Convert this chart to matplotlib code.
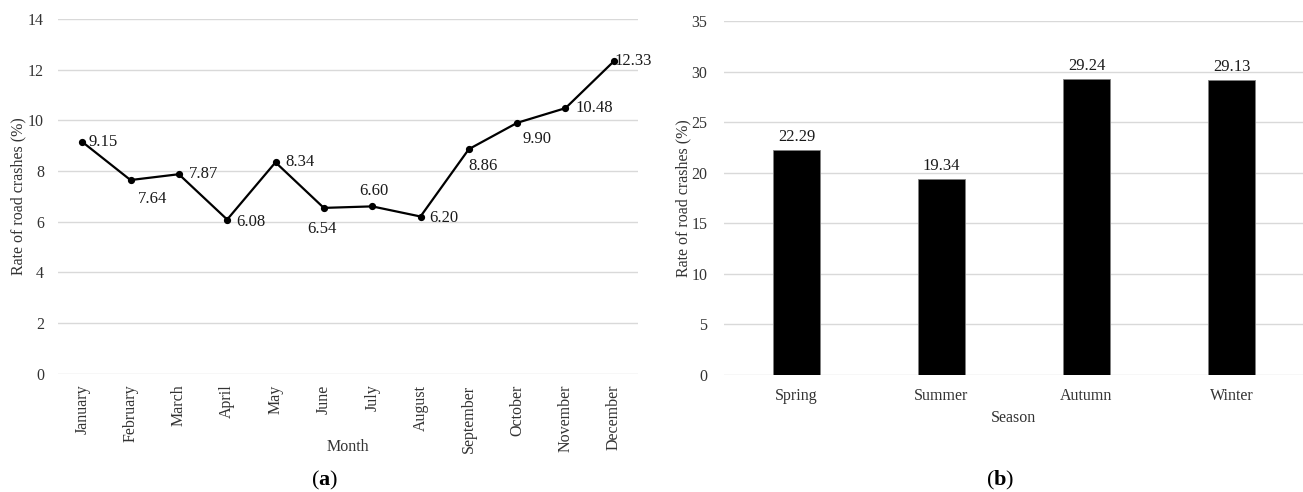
import matplotlib
matplotlib.use("Agg")
import matplotlib.pyplot as plt

plt.rcParams['font.family'] = ['Liberation Serif', 'DejaVu Serif']
plt.rcParams['mathtext.fontset'] = 'custom'
plt.rcParams['mathtext.rm'] = 'Liberation Serif'
plt.rcParams['mathtext.bf'] = 'Liberation Serif:bold'

# Monthly crash rates (%)
months = ["January", "February", "March", "April", "May", "June", "July",
          "August", "September", "October", "November", "December"]
month_rates = [9.15, 7.64, 7.87, 6.08, 8.34, 6.54, 6.60, 6.20, 8.86, 9.90, 10.48, 12.33]

# Seasonal crash rates (%)
seasons = ["Spring", "Summer", "Autumn", "Winter"]
season_rates = [22.29, 19.34, 29.24, 29.13]

# label placement for the monthly values: (dx px, dy px, horizontal alignment)
label_pos = [(6, 0, 'left'), (22, -19, 'center'), (10, 0, 'left'), (9, -2, 'left'),
             (10, 0, 'left'), (-2, -21, 'center'), (2, 15, 'center'), (9, -1, 'left'),
             (14, -17, 'center'), (20, -16, 'center'), (10, 0, 'left'), (1, 0, 'left')]

W, H = 1303, 492
fig = plt.figure(figsize=(W / 100, H / 100), dpi=100)
fig.patch.set_facecolor('white')

grid_c = '#d9d9d9'
tick_c = '#333333'
fs_tick = 11.5
fs_val = 12

def style(ax):
    for s in ax.spines.values():
        s.set_visible(False)
    ax.tick_params(axis='both', length=0, labelsize=fs_tick, colors=tick_c)
    ax.yaxis.grid(True, color=grid_c, linewidth=1.0)
    ax.set_axisbelow(True)

# (a) line chart by month
ax1 = fig.add_axes([58 / W, (H - 373.5) / H, 580 / W, 354.5 / H])
style(ax1)
x = list(range(len(months)))
ax1.plot(x, month_rates, color='black', linewidth=1.6, marker='o', markersize=4.2)
ax1.set_xlim(-0.5, len(months) - 0.5)
ax1.set_ylim(0, 14)
ax1.set_yticks(range(0, 15, 2))
ax1.set_xticks(x)
ax1.set_xticklabels(months, rotation=90)
ax1.tick_params(axis='x', pad=8)
ax1.tick_params(axis='y', pad=10)
for xi, v, (dx, dy, ha) in zip(x, month_rates, label_pos):
    ax1.annotate(f"{v:.2f}", (xi, v), xytext=(dx, dy), textcoords='offset pixels',
                 ha=ha, va='center', fontsize=fs_val, color='#1a1a1a')
ax1.set_xlabel("Month", fontsize=fs_tick, color=tick_c, va='center')
ax1.xaxis.set_label_coords(0.5, -(447 - 373.5) / 354.5)
ax1.set_ylabel("Rate of road crashes (%)", fontsize=fs_tick, color=tick_c, va='center')
ax1.yaxis.set_label_coords(-(58 - 18) / 580, 0.5)

# (b) bar chart by season
ax2 = fig.add_axes([724 / W, (H - 375) / H, 580 / W, 354 / H])
style(ax2)
xs = list(range(len(seasons)))
ax2.bar(xs, season_rates, width=0.32, color='black', edgecolor='#808080', linewidth=0.6)
ax2.set_xlim(-0.5, len(seasons) - 0.5)
ax2.set_ylim(0, 35)
ax2.set_yticks(range(0, 36, 5))
ax2.set_xticks(xs)
ax2.set_xticklabels(seasons)
ax2.tick_params(axis='x', pad=9)
ax2.tick_params(axis='y', pad=12)
for xi, v in zip(xs, season_rates):
    ax2.annotate(f"{v:.2f}", (xi, v), xytext=(0, 13), textcoords='offset pixels',
                 ha='center', va='center', fontsize=fs_val, color='#1a1a1a')
ax2.set_xlabel("Season", fontsize=fs_tick, color=tick_c, va='center')
ax2.xaxis.set_label_coords(0.5, -(418 - 375) / 354)
ax2.set_ylabel("Rate of road crashes (%)", fontsize=fs_tick, color=tick_c, va='center')
ax2.yaxis.set_label_coords(-(724 - 683) / 580, 0.5)

# panel captions
for xc, letter in ((325, 'a'), (1000, 'b')):
    fig.text(xc / W, 1 - 480 / H, r"$\mathrm{(}\mathbf{%s}\mathrm{)}$" % letter,
             ha='center', va='center', fontsize=16, color='black')

fig.savefig("out.png", dpi=100, facecolor='white')
